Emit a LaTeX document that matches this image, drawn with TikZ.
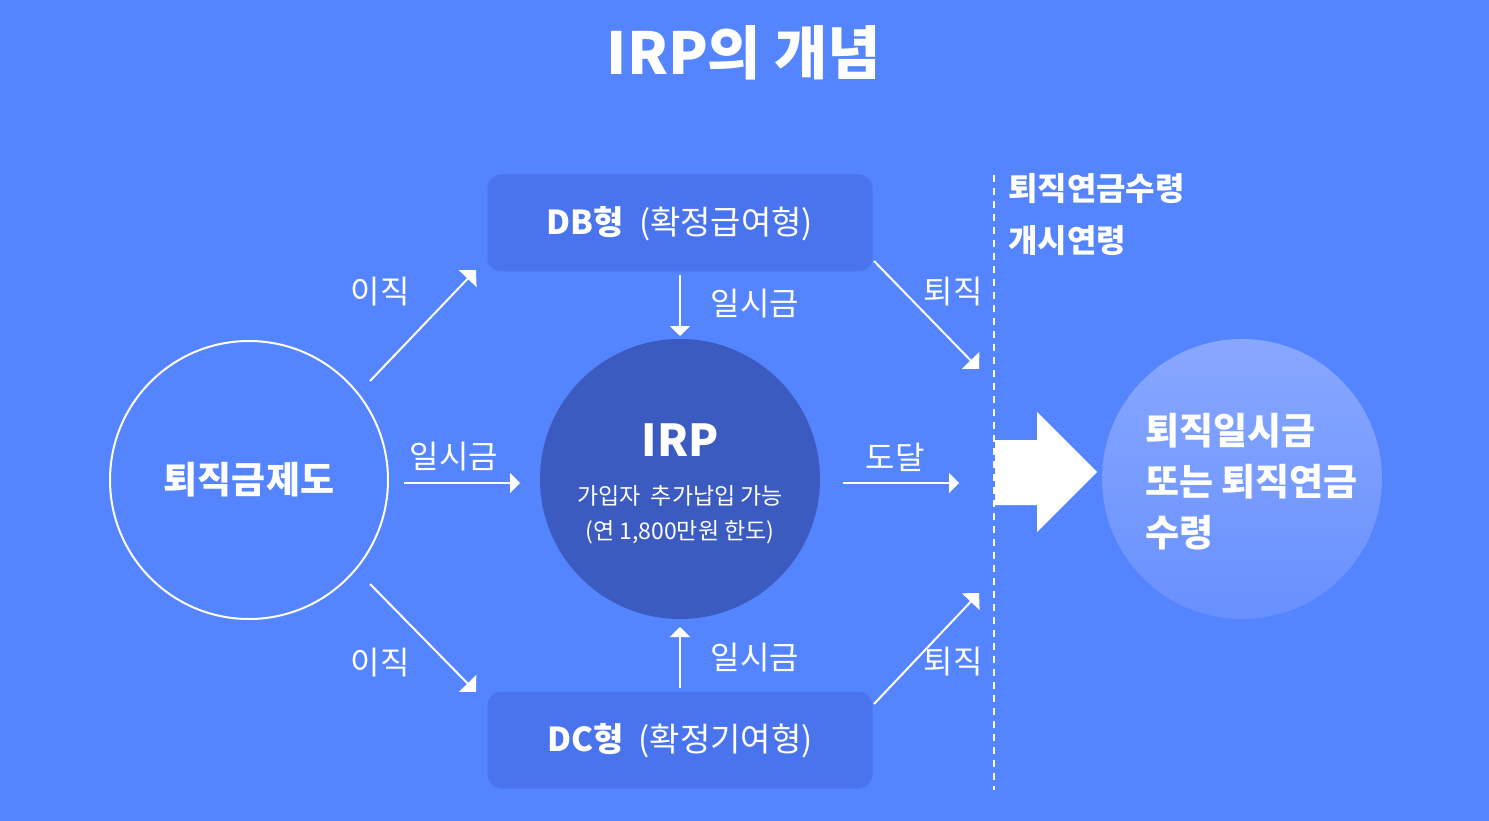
\documentclass[tikz,border=0pt]{standalone}
\usepackage{fontspec}
\setmainfont{Noto Sans CJK KR}
\usetikzlibrary{arrows.meta}
\definecolor{bg}{HTML}{5584FF}
\definecolor{boxc}{HTML}{4A74EE}
\definecolor{irpc}{HTML}{3B5BC1}
\definecolor{rtop}{HTML}{88A7FF}
\definecolor{rbot}{HTML}{6890FF}
\tikzset{
  typebox/.style={fill=boxc, rounded corners=14pt, minimum width=385pt, minimum height=97pt, inner sep=0pt},
  boxtext/.style={text=white, inner sep=0pt, font=\fontsize{33}{38}\selectfont},
  lbl/.style={text=white, font=\fontsize{32}{36}\selectfont, inner sep=0pt},
  flow/.style={draw=white, line width=2pt, -{Triangle[length=10pt,width=20pt]}},
  diag/.style={draw=white, line width=2pt, -{Triangle[length=12pt,width=24pt]}},
}
\begin{document}
\begin{tikzpicture}[x=1pt,y=-1pt]
\fill[bg] (0,0) rectangle (1489,821);
\useasboundingbox (0,0) rectangle (1489,821);

% title
\node[text=white, font=\fontsize{58}{62}\selectfont\bfseries, inner sep=0pt] (title) at (744,53) {IRP의 개념};

% boxes
\node[typebox] (db) at (680,223) {};
\node[boxtext] (dbt) at (680,224) {\textbf{DB형} \ (확정급여형)};
\node[typebox] (dc) at (680,740) {};
\node[boxtext] (dct) at (680,741) {\textbf{DC형} \ (확정기여형)};

% left circle
\node[circle, draw=white, line width=2pt, minimum size=278pt, inner sep=0pt, text=white, font=\fontsize{37}{42}\selectfont\bfseries] (src) at (249,480) {퇴직금제도};

% IRP circle
\node[circle, fill=irpc, minimum size=280pt, inner sep=0pt] (irp) at (680,479) {};
\node[text=white, font=\fontsize{44}{48}\selectfont\bfseries, inner sep=0pt] (irpt) at (680,440) {IRP};
\node[text=white, font=\fontsize{23}{35}\selectfont, align=center, inner sep=0pt] (irpd) at (680,515) {가입자\ \ 추가납입 가능\\(연 1,800만원 한도)};

% right circle
\node[circle, minimum size=280pt, inner sep=0pt, top color=rtop, bottom color=rbot] (res) at (1242,479) {};
\node[text=white, font=\fontsize{37}{51}\selectfont\bfseries, align=left, anchor=west, inner sep=0pt] (rest) at (1145,482) {퇴직일시금\\또는 퇴직연금\\수령};

% dashed line
\coordinate (dtop) at (994,175);
\coordinate (dbot) at (994,790);
\draw[white, line width=2pt, dash pattern=on 7pt off 6pt] (dtop) -- (dbot);
\node[text=white, font=\fontsize{32}{52}\selectfont\bfseries, align=left, anchor=north west, inner sep=0pt] (age) at (1008,173) {퇴직연금수령\\개시연령};

% big arrow
\fill[white] (995,440) -- (1037,440) -- (1037,412) -- (1097,472) -- (1037,532) -- (1037,505) -- (995,505) -- cycle;

% connector coordinates
\coordinate (a1s) at (370,381); \coordinate (a1e) at (476,270);
\coordinate (a2s) at (370,584); \coordinate (a2e) at (476,692);
\coordinate (a3s) at (404,483); \coordinate (a3e) at (520,483);
\coordinate (a4s) at (680,275); \coordinate (a4e) at (680,336);
\coordinate (a5s) at (680,688); \coordinate (a5e) at (680,627);
\coordinate (a6s) at (843,483); \coordinate (a6e) at (959,483);
\coordinate (a7s) at (874,261); \coordinate (a7e) at (979,369);
\coordinate (a8s) at (874,704); \coordinate (a8e) at (979,593);

\draw[diag] (a1s) -- (a1e);
\draw[diag] (a2s) -- (a2e);
\draw[flow] (a3s) -- (a3e);
\draw[flow] (a4s) -- (a4e);
\draw[flow] (a5s) -- (a5e);
\draw[flow] (a6s) -- (a6e);
\draw[diag] (a7s) -- (a7e);
\draw[diag] (a8s) -- (a8e);

% labels
\node[lbl] (l1) at (380,292) {이직};
\node[lbl] (l2) at (380,663) {이직};
\node[lbl] (l3) at (454,457) {일시금};
\node[lbl] (l4) at (755,304) {일시금};
\node[lbl] (l5) at (755,658) {일시금};
\node[lbl] (l6) at (895,457) {도달};
\node[lbl] (l7) at (953,292) {퇴직};
\node[lbl] (l8) at (953,662) {퇴직};
\end{tikzpicture}
\end{document}
